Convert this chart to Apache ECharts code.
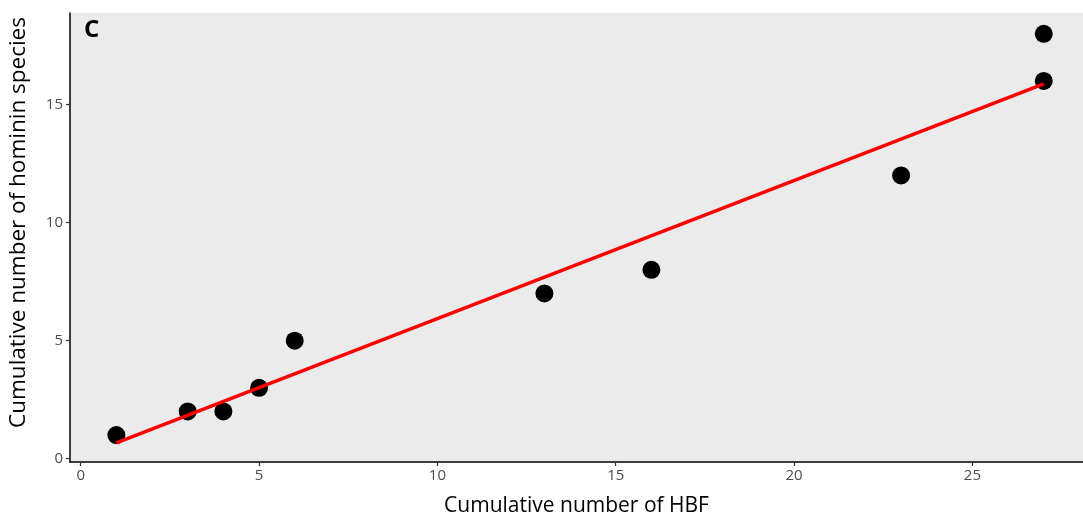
<!DOCTYPE html>
<html><head><meta charset="utf-8">
<script src="https://cdn.jsdelivr.net/npm/echarts@6/dist/echarts.min.js"></script>
<style>html,body{margin:0;padding:0;background:#fff}#c{width:1083px;height:520px}</style>
</head><body><div id="c"></div>
<script>
const hbf = [1, 3, 4, 5, 6, 13, 16, 23, 27, 27];
const species = [1, 2, 2, 3, 5, 7, 8, 12, 16, 18];
const fitLine = [[1, 0.67], [27, 15.88]];
const xTicks = [0, 5, 10, 15, 20, 25];
const yTicks = [0, 5, 10, 15];
const panelLabel = 'C';
const xTitle = 'Cumulative number of HBF';
const yTitle = 'Cumulative number of hominin species';

const font = '"Open Sans", "DejaVu Sans", sans-serif';
const chart = echarts.init(document.getElementById('c'));
chart.setOption({
  animation: false,
  grid: { left: 70, right: 0, top: 13, bottom: 58, show: true, backgroundColor: '#EBEBEB', borderWidth: 0,
          containLabel: false, outerBoundsMode: 'none' },
  xAxis: {
    type: 'value', min: -0.3, max: 28.1, interval: 5,
    axisLine: { show: true, onZero: false, lineStyle: { color: '#000', width: 1.5 } },
    axisTick: { show: true, length: 4, lineStyle: { color: '#333', width: 1.2 }, customValues: xTicks },
    axisLabel: { color: '#4d4d4d', fontSize: 15, fontFamily: font, margin: 6, customValues: xTicks, showMinLabel: true, showMaxLabel: true },
    splitLine: { show: false },
    name: xTitle, nameLocation: 'middle', nameGap: 34,
    nameTextStyle: { color: '#000', fontSize: 21, fontFamily: font }
  },
  yAxis: {
    type: 'value', min: -0.14, max: 18.88, interval: 5,
    axisLine: { show: true, onZero: false, lineStyle: { color: '#000', width: 1.5 } },
    axisTick: { show: true, length: 4, lineStyle: { color: '#333', width: 1.2 }, customValues: yTicks },
    axisLabel: { color: '#4d4d4d', fontSize: 15, fontFamily: font, margin: 7, customValues: yTicks },
    splitLine: { show: false },
    name: yTitle, nameLocation: 'middle', nameGap: 40,
    nameTextStyle: { color: '#000', fontSize: 22.5, fontFamily: font, padding: [0, 0, 0, 30] }
  },
  graphic: [{
    type: 'text', left: 84, top: 18,
    style: { text: panelLabel, fill: '#000', font: 'bold 24px ' + font }
  }],
  series: [
    {
      type: 'scatter', data: hbf.map((x, i) => [x, species[i]]),
      symbol: 'circle', symbolSize: 18, itemStyle: { color: '#000', opacity: 1 }, z: 2
    },
    {
      type: 'line', data: fitLine, symbol: 'none',
      lineStyle: { color: '#FF0000', width: 3.5 }, z: 3
    }
  ]
});
</script></body></html>
